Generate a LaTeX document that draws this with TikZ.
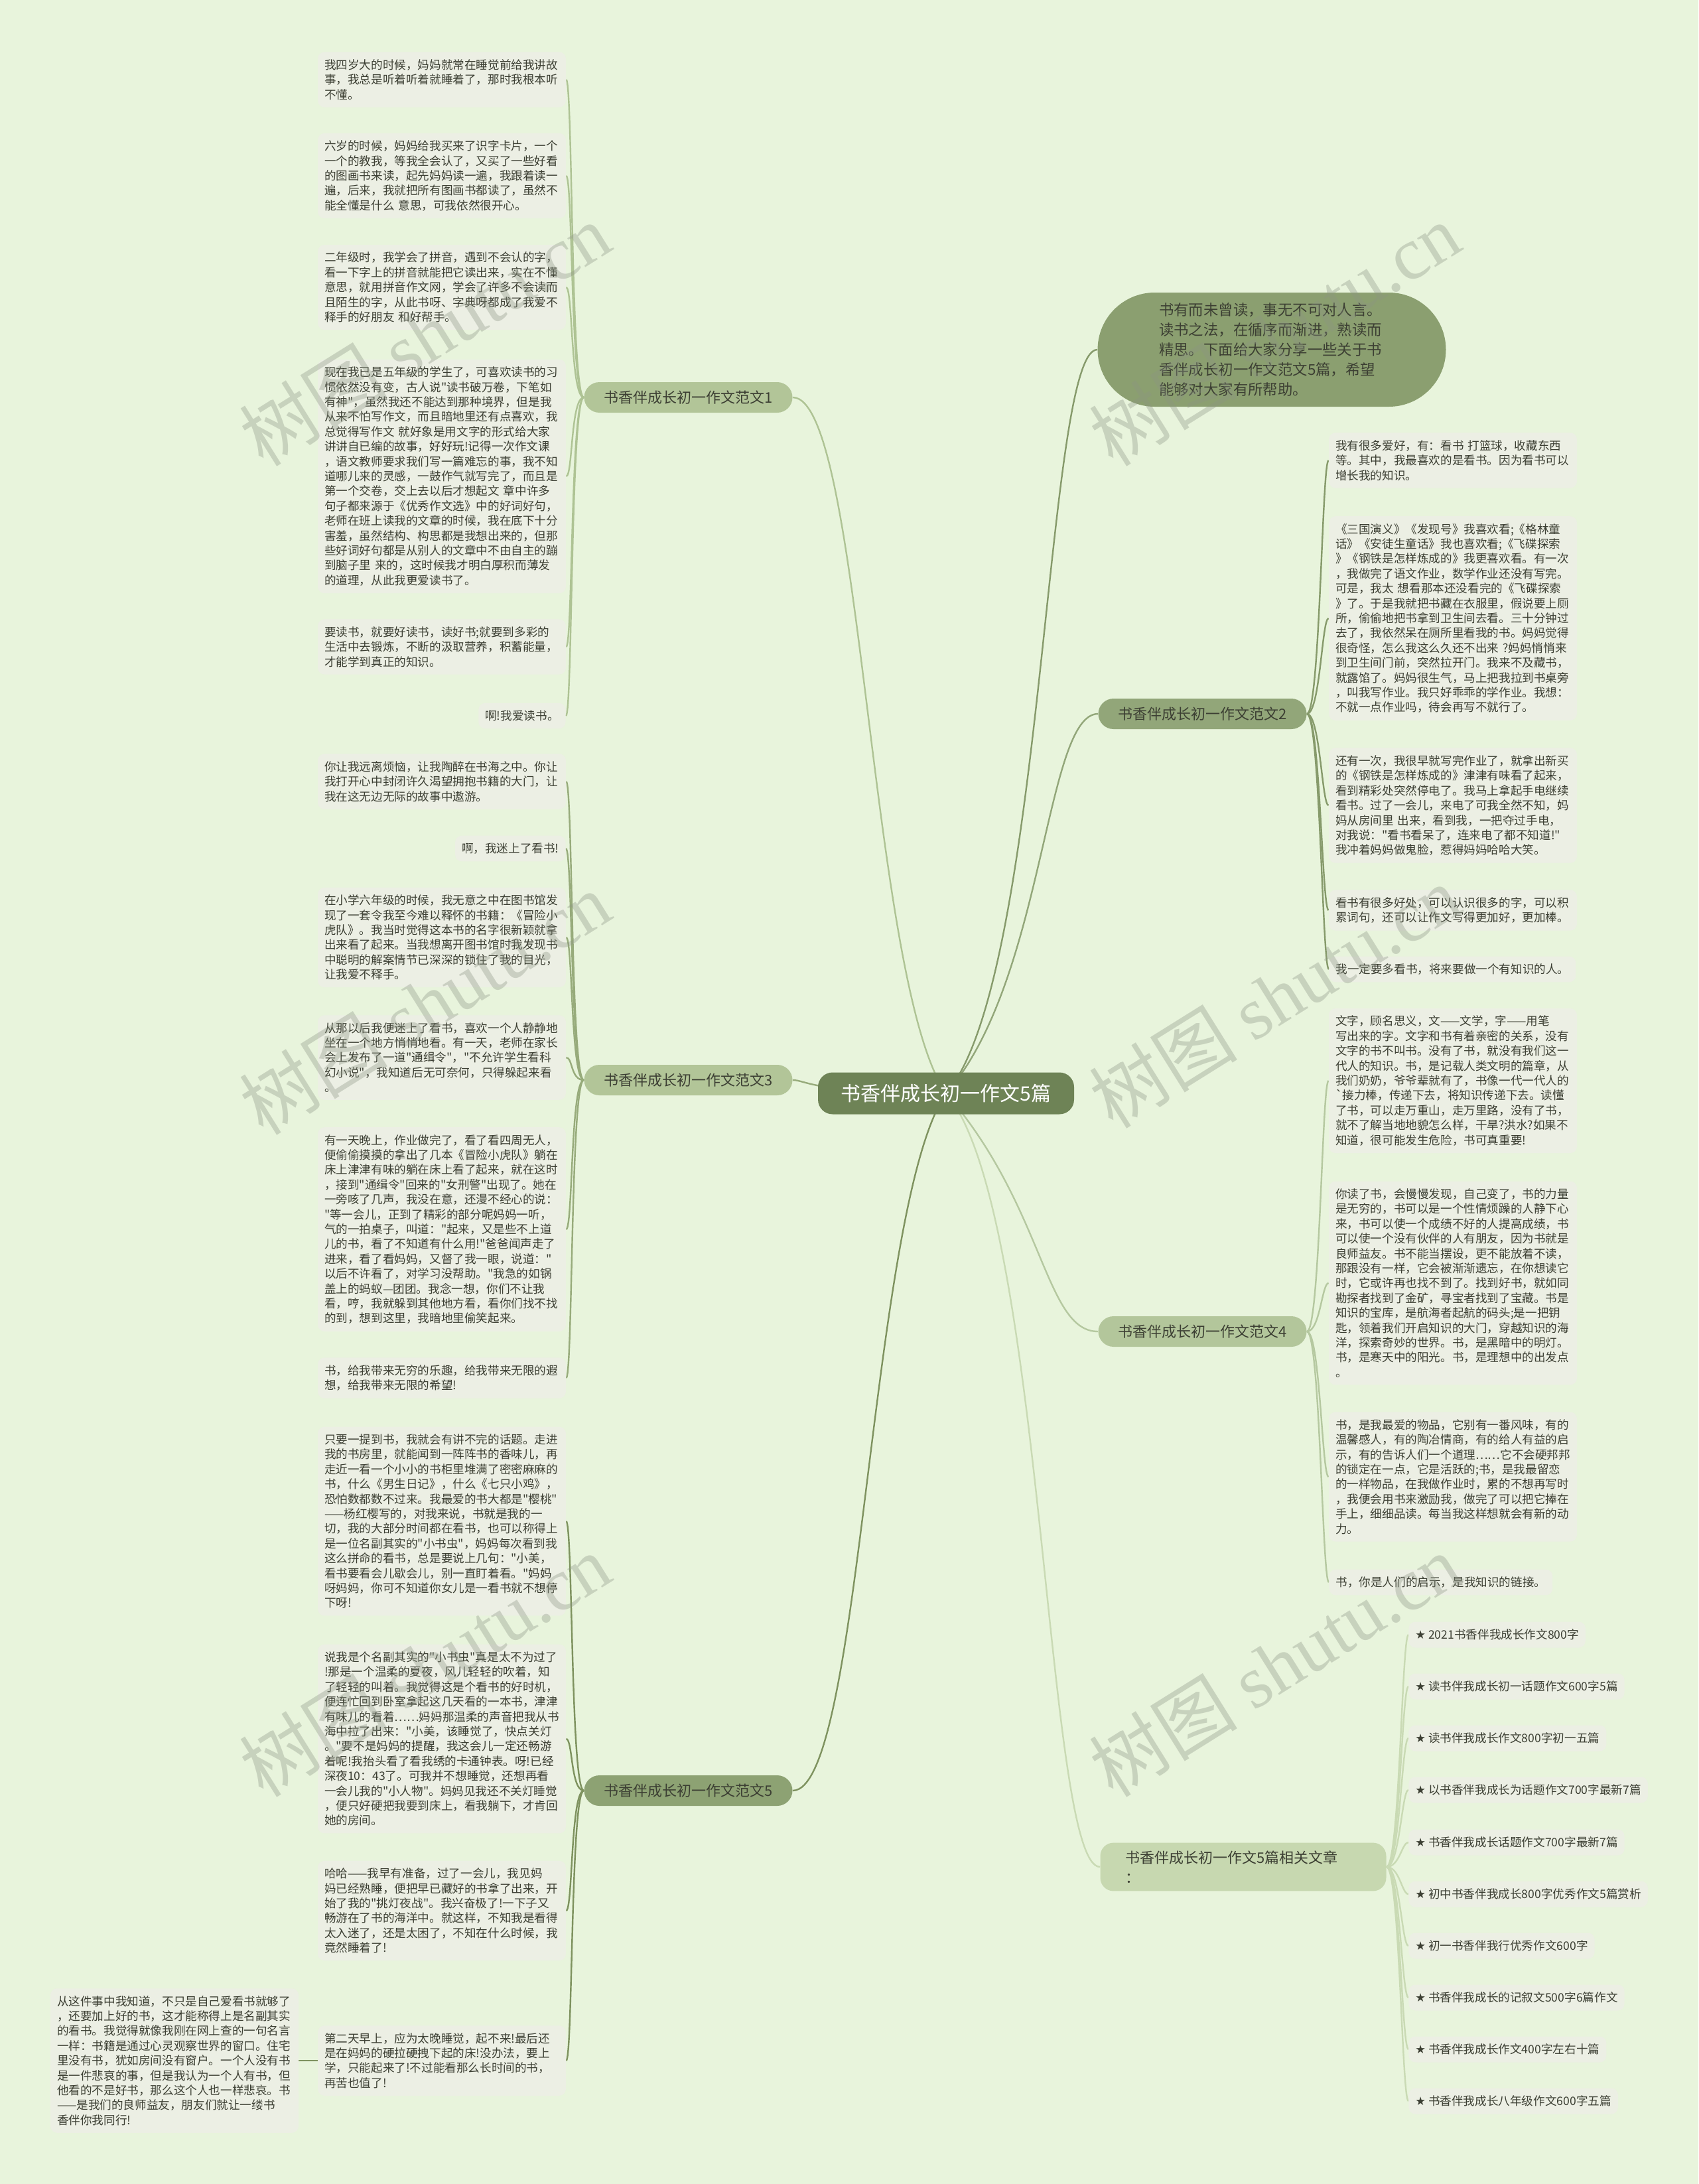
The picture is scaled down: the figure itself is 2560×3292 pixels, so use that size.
\documentclass[tikz,border=0pt]{standalone}
\usepackage{fontspec}
\newfontfamily\zh{Noto Sans CJK SC}
\newfontfamily\wmlat{Liberation Serif}
\newfontfamily\symf{DejaVu Sans}
\usetikzlibrary{calc}
\definecolor{bgc}{HTML}{E8F4DC}
\definecolor{blockc}{HTML}{ECEFE4}
\definecolor{txtc}{HTML}{3C3F33}
\definecolor{ctrc}{HTML}{6E8356}
\definecolor{introc}{HTML}{8B9F70}
\definecolor{btwo}{HTML}{92A679}
\definecolor{bfive}{HTML}{8DA273}
\definecolor{bone}{HTML}{B2C598}
\definecolor{bfour}{HTML}{B3C69B}
\definecolor{relc}{HTML}{C7D8B0}
\definecolor{eone}{HTML}{AEC394}
\definecolor{ethree}{HTML}{97AB7B}
\definecolor{efive}{HTML}{7E925F}
\definecolor{etwo}{HTML}{869A6B}
\definecolor{efour}{HTML}{B5C8A0}
\definecolor{erel}{HTML}{C9DAB4}
\definecolor{wmc}{HTML}{8C9484}
\pgfdeclarelayer{bglayer}
\pgfdeclarelayer{edgelayer}
\pgfsetlayers{bglayer,edgelayer,main}
\tikzset{
  txt/.style={fill=blockc, rounded corners=5pt, text=txtc, font=\zh\fontsize{8.8pt}{11.2pt}\selectfont, inner xsep=5pt, inner ysep=5.5pt, align=left},
  blk/.style={txt, text width=177pt},
  itembox/.style={txt, minimum height=19.5pt},
  brlabel/.style={rounded corners=11.5pt, minimum width=157pt, minimum height=23pt, inner sep=0pt, font=\zh\fontsize{11pt}{13pt}\selectfont, text=txtc},
  ctrnode/.style={fill=ctrc, rounded corners=11pt, minimum width=193pt, minimum height=31.5pt, inner sep=0pt, font=\zh\fontsize{15pt}{17pt}\selectfont, text=white},
  intronode/.style={fill=introc, rounded corners=43pt, minimum width=262.5pt, minimum height=86pt, text width=170pt, align=left, font=\zh\fontsize{11.2pt}{15pt}\selectfont, text=txtc},
  relnode/.style={fill=relc, rounded corners=10pt, text width=177.5pt, inner xsep=19pt, inner ysep=6pt, align=left, font=\zh\fontsize{11pt}{15pt}\selectfont, text=txtc},
  conn/.style={line width=1.2pt},
  wm/.style={font=\zh\fontsize{56pt}{56pt}\selectfont, text=wmc, text opacity=0.35, rotate=32}
}
\newcommand\leftlink[3]{\draw[conn,#1] (#2.west) .. controls ($(#2.west)+(-20,0)$) and ($(#3.east)+(10,0)$) .. (#3.east);}
\newcommand\rightlink[3]{\draw[conn,#1] (#2.east) .. controls ($(#2.east)+(20,0)$) and ($(#3.west)+(-10,0)$) .. (#3.west);}
\begin{document}
\begin{tikzpicture}[x=0.5pt,y=-0.5pt]
\begin{pgfonlayer}{bglayer}
\fill[bgc] (0,0) rectangle (2560,3292);
\end{pgfonlayer}
\useasboundingbox (0,0) rectangle (2560,3292);

% center
\node[ctrnode] (ctr) at (1426,1648) {书香伴成长初一作文5篇};

% branch labels
\node[brlabel, fill=bone] (b1) at (1037.5,599) {书香伴成长初一作文范文1};
\node[brlabel, fill=bone] (b3) at (1037.5,1628) {书香伴成长初一作文范文3};
\node[brlabel, fill=bfive] (b5) at (1037.5,2699) {书香伴成长初一作文范文5};
\node[brlabel, fill=btwo] (b2) at (1812.5,1076) {书香伴成长初一作文范文2};
\node[brlabel, fill=bfour] (b4) at (1812.5,2007) {书香伴成长初一作文范文4};
\node[intronode] (intro) at (1917,527) {书有而未曾读，事无不可对人言。\\读书之法，在循序而渐进，熟读而\\精思。下面给大家分享一些关于书\\香伴成长初一作文范文5篇，希望\\能够对大家有所帮助。};
\node[relnode] (rel) at (1874,2814) {书香伴成长初一作文5篇相关文章\\：};

% branch 1 children
\node[blk] (a1) at (666,120) {我四岁大的时候，妈妈就常在睡觉前给我讲故\\事，我总是听着听着就睡着了，那时我根本听\\不懂。};
\node[blk] (a2) at (666,265) {六岁的时候，妈妈给我买来了识字卡片，一个\\一个的教我，等我全会认了，又买了一些好看\\的图画书来读，起先妈妈读一遍，我跟着读一\\遍，后来，我就把所有图画书都读了，虽然不\\能全懂是什么~意思，可我依然很开心。};
\node[blk] (a3) at (666,433) {二年级时，我学会了拼音，遇到不会认的字，\\看一下字上的拼音就能把它读出来，实在不懂\\意思，就用拼音作文网，学会了许多不会读而\\且陌生的字，从此书呀、字典呀都成了我爱不\\释手的好朋友~和好帮手。};
\node[blk] (a4) at (666,718) {现在我已是五年级的学生了，可喜欢读书的习\\惯依然没有变，古人说"读书破万卷，下笔如\\有神"，虽然我还不能达到那种境界，但是我\\从来不怕写作文，而且暗地里还有点喜欢，我\\总觉得写作文~就好象是用文字的形式给大家\\讲讲自已编的故事，好好玩!记得一次作文课\\，语文教师要求我们写一篇难忘的事，我不知\\道哪儿来的灵感，一鼓作气就写完了，而且是\\第一个交卷，交上去以后才想起文~章中许多\\句子都来源于《优秀作文选》中的好词好句，\\老师在班上读我的文章的时候，我在底下十分\\害羞，虽然结构、构思都是我想出来的，但那\\些好词好句都是从别人的文章中不由自主的蹦\\到脑子里~来的，这时候我才明白厚积而薄发\\的道理，从此我更爱读书了。};
\node[blk] (a5) at (666,975) {要读书，就要好读书，读好书;就要到多彩的\\生活中去锻炼，不断的汲取营养，积蓄能量，\\才能学到真正的知识。};
\node[txt, anchor=east] (a6) at (853,1079) {啊!我爱读书。};

% branch 3 children
\node[blk] (c1) at (666,1178) {你让我远离烦恼，让我陶醉在书海之中。你让\\我打开心中封闭许久渴望拥抱书籍的大门，让\\我在这无边无际的故事中遨游。};
\node[txt, anchor=east] (c2) at (853,1279) {啊，我迷上了看书!};
\node[blk] (c3) at (666,1413) {在小学六年级的时候，我无意之中在图书馆发\\现了一套令我至今难以释怀的书籍：《冒险小\\虎队》。我当时觉得这本书的名字很新颖就拿\\出来看了起来。当我想离开图书馆时我发现书\\中聪明的解案情节已深深的锁住了我的目光，\\让我爱不释手。};
\node[blk] (c4) at (666,1594) {从那以后我便迷上了看书，喜欢一个人静静地\\坐在一个地方悄悄地看。有一天，老师在家长\\会上发布了一道"通缉令"，"不允许学生看科\\幻小说"，我知道后无可奈何，只得躲起来看\\。};
\node[blk] (c5) at (666,1853) {有一天晚上，作业做完了，看了看四周无人，\\便偷偷摸摸的拿出了几本《冒险小虎队》躺在\\床上津津有味的躺在床上看了起来，就在这时\\，接到"通缉令"回来的"女刑警"出现了。她在\\一旁咳了几声，我没在意，还漫不经心的说：\\"等一会儿，正到了精彩的部分呢妈妈一听，\\气的一拍桌子，叫道："起来，又是些不上道\\儿的书，看了不知道有什么用!"爸爸闻声走了\\进来，看了看妈妈，又督了我一眼，说道："\\以后不许看了，对学习没帮助。"我急的如锅\\盖上的蚂蚁—团团。我念一想，你们不让我\\看，哼，我就躲到其他地方看，看你们找不找\\的到，想到这里，我暗地里偷笑起来。};
\node[blk] (c6) at (666,2077) {书，给我带来无穷的乐趣，给我带来无限的遐\\想，给我带来无限的希望!};

% branch 5 children
\node[blk] (e1) at (666,2293) {只要一提到书，我就会有讲不完的话题。走进\\我的书房里，就能闻到一阵阵书的香味儿，再\\走近一看一个小小的书柜里堆满了密密麻麻的\\书，什么《男生日记》，什么《七只小鸡》，\\恐怕数都数不过来。我最爱的书大都是"樱桃"\\——杨红樱写的，对我来说，书就是我的一\\切，我的大部分时间都在看书，也可以称得上\\是一位名副其实的"小书虫"，妈妈每次看到我\\这么拼命的看书，总是要说上几句："小美，\\看书要看会儿歇会儿，别一直盯着看。"妈妈\\呀妈妈，你可不知道你女儿是一看书就不想停\\下呀!};
\node[blk] (e2) at (666,2621) {说我是个名副其实的"小书虫"真是太不为过了\\!那是一个温柔的夏夜，风儿轻轻的吹着，知\\了轻轻的叫着。我觉得这是个看书的好时机，\\便连忙回到卧室拿起这几天看的一本书，津津\\有味儿的看着……妈妈那温柔的声音把我从书\\海中拉了出来："小美，该睡觉了，快点关灯\\。"要不是妈妈的提醒，我这会儿一定还畅游\\着呢!我抬头看了看我绣的卡通钟表。呀!已经\\深夜10：43了。可我并不想睡觉，还想再看\\一会儿我的"小人物"。妈妈见我还不关灯睡觉\\，便只好硬把我要到床上，看我躺下，才肯回\\她的房间。};
\node[blk] (e3) at (666,2880) {哈哈——我早有准备，过了一会儿，我见妈\\妈已经熟睡，便把早已藏好的书拿了出来，开\\始了我的"挑灯夜战"。我兴奋极了!一下子又\\畅游在了书的海洋中。就这样，不知我是看得\\太入迷了，还是太困了，不知在什么时候，我\\竟然睡着了!};
\node[blk] (e4) at (666,3106) {第二天早上，应为太晚睡觉，起不来!最后还\\是在妈妈的硬拉硬拽下起的床!没办法，要上\\学，只能起来了!不过能看那么长时间的书，\\再苦也值了!};
\node[blk] (e5) at (263,3106) {从这件事中我知道，不只是自己爱看书就够了\\，还要加上好的书，这才能称得上是名副其实\\的看书。我觉得就像我刚在网上查的一句名言\\一样：书籍是通过心灵观察世界的窗口。住宅\\里没有书，犹如房间没有窗户。一个人没有书\\是一件悲哀的事，但是我认为一个人有书，但\\他看的不是好书，那么这个人也一样悲哀。书\\——是我们的良师益友，朋友们就让一缕书\\香伴你我同行!};

% branch 2 children
\node[blk] (d1) at (2190,694) {我有很多爱好，有：看书~打篮球，收藏东西\\等。其中，我最喜欢的是看书。因为看书可以\\增长我的知识。};
\node[blk] (d2) at (2190,932) {《三国演义》《发现号》我喜欢看;《格林童\\话》《安徒生童话》我也喜欢看;《飞碟探索\\》《钢铁是怎样炼成的》我更喜欢看。有一次\\，我做完了语文作业，数学作业还没有写完。\\可是，我太~想看那本还没看完的《飞碟探索\\》了。于是我就把书藏在衣服里，假说要上厕\\所，偷偷地把书拿到卫生间去看。三十分钟过\\去了，我依然呆在厕所里看我的书。妈妈觉得\\很奇怪，怎么我这么久还不出来~?妈妈悄悄来\\到卫生间门前，突然拉开门。我来不及藏书，\\就露馅了。妈妈很生气，马上把我拉到书桌旁\\，叫我写作业。我只好乖乖的学作业。我想：\\不就一点作业吗，待会再写不就行了。};
\node[blk] (d3) at (2190,1214) {还有一次，我很早就写完作业了，就拿出新买\\的《钢铁是怎样炼成的》津津有味看了起来，\\看到精彩处突然停电了。我马上拿起手电继续\\看书。过了一会儿，来电了可我全然不知，妈\\妈从房间里~出来，看到我，一把夺过手电，\\对我说："看书看呆了，连来电了都不知道!"\\我冲着妈妈做鬼脸，惹得妈妈哈哈大笑。};
\node[blk] (d4) at (2190,1372) {看书有很多好处，可以认识很多的字，可以积\\累词句，还可以让作文写得更加好，更加棒。};
\node[txt, anchor=west] (d5) at (2003,1461) {我一定要多看书，将来要做一个有知识的人。};

% branch 4 children
\node[blk] (f1) at (2190,1629) {文字，顾名思义，文——文学，字——用笔\\写出来的字。文字和书有着亲密的关系，没有\\文字的书不叫书。没有了书，就没有我们这一\\代人的知识。书，是记载人类文明的篇章，从\\我们奶奶，爷爷辈就有了，书像一代一代人的\\`接力棒，传递下去，将知识传递下去。读懂\\了书，可以走万重山，走万里路，没有了书，\\就不了解当地地貌怎么样，干旱?洪水?如果不\\知道，很可能发生危险，书可真重要!};
\node[blk] (f2) at (2190,1934) {你读了书，会慢慢发现，自己变了，书的力量\\是无穷的，书可以是一个性情烦躁的人静下心\\来，书可以使一个成绩不好的人提高成绩，书\\可以使一个没有伙伴的人有朋友，因为书就是\\良师益友。书不能当摆设，更不能放着不读，\\那跟没有一样，它会被渐渐遗忘，在你想读它\\时，它或许再也找不到了。找到好书，就如同\\勘探者找到了金矿，寻宝者找到了宝藏。书是\\知识的宝库，是航海者起航的码头;是一把钥\\匙，领着我们开启知识的大门，穿越知识的海\\洋，探索奇妙的世界。书，是黑暗中的明灯。\\书，是寒天中的阳光。书，是理想中的出发点\\。};
\node[blk] (f3) at (2190,2226) {书，是我最爱的物品，它别有一番风味，有的\\温馨感人，有的陶冶情商，有的给人有益的启\\示，有的告诉人们一个道理……它不会硬邦邦\\的锁定在一点，它是活跃的;书，是我最留恋\\的一样物品，在我做作业时，累的不想再写时\\，我便会用书来激励我，做完了可以把它捧在\\手上，细细品读。每当我这样想就会有新的动\\力。};
\node[txt, anchor=west] (f4) at (2003,2385) {书，你是人们的启示，是我知识的链接。};

% related list
\node[itembox, anchor=west] (g1) at (2123,2464) {{\symf ★} 2021书香伴我成长作文800字};
\node[itembox, anchor=west] (g2) at (2123,2542) {{\symf ★} 读书伴我成长初一话题作文600字5篇};
\node[itembox, anchor=west] (g3) at (2123,2620) {{\symf ★} 读书伴我成长作文800字初一五篇};
\node[itembox, anchor=west] (g4) at (2123,2698) {{\symf ★} 以书香伴我成长为话题作文700字最新7篇};
\node[itembox, anchor=west] (g5) at (2123,2777) {{\symf ★} 书香伴我成长话题作文700字最新7篇};
\node[itembox, anchor=west] (g6) at (2123,2855) {{\symf ★} 初中书香伴我成长800字优秀作文5篇赏析};
\node[itembox, anchor=west] (g7) at (2123,2933) {{\symf ★} 初一书香伴我行优秀作文600字};
\node[itembox, anchor=west] (g8) at (2123,3011) {{\symf ★} 书香伴我成长的记叙文500字6篇作文};
\node[itembox, anchor=west] (g9) at (2123,3089) {{\symf ★} 书香伴我成长作文400字左右十篇};
\node[itembox, anchor=west] (g10) at (2123,3167) {{\symf ★} 书香伴我成长八年级作文600字五篇};

% connectors
\begin{pgfonlayer}{edgelayer}
\draw[conn,eone] (b1.east) .. controls (1300,599) and (1310,1480) .. (ctr.center);
\draw[conn,ethree] (b3.east) .. controls (1215,1628) and (1225,1648) .. (ctr.center);
\draw[conn,efive] (b5.east) .. controls (1300,2699) and (1310,1820) .. (ctr.center);
\draw[conn,etwo] (intro.west) .. controls (1575,527) and (1575,1480) .. (ctr.center);
\draw[conn,btwo] (b2.west) .. controls (1575,1076) and (1575,1480) .. (ctr.center);
\draw[conn,efour] (b4.west) .. controls (1575,2007) and (1575,1820) .. (ctr.center);
\draw[conn,erel] (rel.west) .. controls (1575,2814) and (1575,1820) .. (ctr.center);
\foreach \c in {a1,a2,a3,a4,a5,a6}{\leftlink{eone}{b1}{\c}}
\foreach \c in {c1,c2,c3,c4,c5,c6}{\leftlink{ethree}{b3}{\c}}
\foreach \c in {e1,e2,e3,e4}{\leftlink{efive}{b5}{\c}}
\draw[conn,efive] (e4.west) -- (e5.east);
\foreach \c in {d1,d2,d3,d4,d5}{\rightlink{etwo}{b2}{\c}}
\foreach \c in {f1,f2,f3,f4}{\rightlink{efour}{b4}{\c}}
\foreach \c in {g1,g2,g3,g4,g5,g6,g7,g8,g9,g10}{\rightlink{erel}{rel}{\c}}
\end{pgfonlayer}

% watermarks
\node[wm] (w1) at (640,504) {树图 {\wmlat shutu.cn}};
\node[wm] (w2) at (640,1512) {树图 {\wmlat shutu.cn}};
\node[wm] (w3) at (640,2510) {树图 {\wmlat shutu.cn}};
\node[wm] (w4) at (1921,504) {树图 {\wmlat shutu.cn}};
\node[wm] (w5) at (1921,1502) {树图 {\wmlat shutu.cn}};
\node[wm] (w6) at (1921,2510) {树图 {\wmlat shutu.cn}};
\end{tikzpicture}
\end{document}
